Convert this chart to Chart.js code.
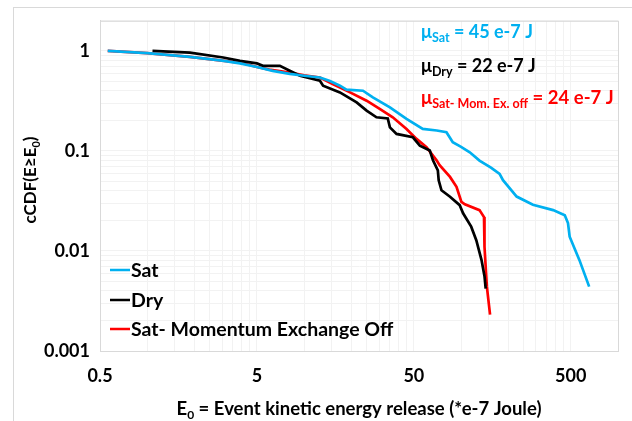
<!DOCTYPE html>
<html>
<head>
<meta charset="utf-8">
<script src="https://cdn.jsdelivr.net/npm/chart.js@4/dist/chart.umd.min.js"></script>
<style>
  html, body { margin: 0; padding: 0; background: #fff; }
</style>
</head>
<body>
<canvas id="chart" width="632" height="421"></canvas>
<script>
// series: energy E0 (*e-7 J) and cCDF
const satE   = [0.56, 1.0, 1.87, 3.0, 3.9, 5.0, 6.3, 8.1, 10, 12.6, 14.6, 16.9, 18.6, 23.7, 27.4, 35.2, 44.9, 57, 70, 80.7, 88.5, 100, 113.6, 131, 155, 176, 185, 226, 287, 386, 458, 480, 492, 568, 655];
const satCdf = [1.0, 0.95, 0.87, 0.80, 0.75, 0.69, 0.632, 0.59, 0.565, 0.542, 0.5, 0.449, 0.41, 0.40, 0.343, 0.273, 0.209, 0.166, 0.16, 0.154, 0.122, 0.11, 0.097, 0.08, 0.068, 0.059, 0.051, 0.035, 0.029, 0.0256, 0.0228, 0.019, 0.0139, 0.0081, 0.0044];

const dryE   = [1.08, 1.87, 3.05, 3.9, 5.0, 5.46, 7.0, 9.4, 12.6, 13.2, 16.9, 21.6, 25, 28.9, 34.1, 35.2, 38.8, 49.3, 54.6, 63.2, 66.2, 71.1, 72, 75, 85, 98, 103, 116, 125, 135, 141, 143.5];
const dryCdf = [1.0, 0.96, 0.86, 0.795, 0.75, 0.709, 0.709, 0.564, 0.503, 0.449, 0.385, 0.306, 0.253, 0.217, 0.211, 0.172, 0.148, 0.137, 0.113, 0.101, 0.0805, 0.064, 0.0508, 0.0404, 0.0348, 0.0287, 0.0238, 0.0175, 0.0128, 0.0081, 0.0056, 0.0042];

const offE   = [0.56, 1.0, 1.87, 3.0, 3.9, 5.0, 6.0, 8.1, 10, 12.6, 15.2, 19.6, 25, 30.3, 36.7, 44.9, 52, 60.2, 69.8, 73, 85, 93.5, 100.5, 105.7, 131, 140, 141, 146, 153];
const offCdf = [1.0, 0.95, 0.87, 0.80, 0.765, 0.69, 0.65, 0.608, 0.57, 0.542, 0.466, 0.385, 0.318, 0.263, 0.217, 0.166, 0.132, 0.109, 0.0805, 0.072, 0.055, 0.0438, 0.031, 0.0293, 0.0256, 0.0218, 0.011, 0.0044, 0.00231];

const seriesNames = ["Sat", "Dry", "Sat- Momentum Exchange Off"];
const seriesColors = ["#00b0f0", "#000000", "#ff0000"];

// tick labels
const xTickLabels = [0.5, 5, 50, 500];
const yTickLabels = [0.001, 0.01, 0.1, 1];

// mean energy notes
const meanNames  = ["Sat", "Dry", "Sat- Mom. Ex. off"];
const meanValues = ["45 e-7 J", "22 e-7 J", "24 e-7 J"];

const FONT = "Lato, 'Open Sans', sans-serif";

function pts(xs, ys) {
  return xs.map((x, i) => ({ x: x, y: ys[i] }));
}

// Excel-style log gridlines: every k * decade start
function logTicks(starts, max) {
  const out = [];
  starts.forEach(s => {
    for (let k = 1; k <= 9; k++) {
      const v = +(s * k).toPrecision(6);
      if (v <= max) out.push({ value: v });
    }
  });
  return out;
}

function isMajor(list, v) {
  return list.some(m => Math.abs(m - v) / m < 1e-6);
}

function drawSubText(ctx, x, y, parts) {
  // parts: [text, size, dy]
  parts.forEach(p => {
    ctx.font = "bold " + p[1] + "px " + FONT;
    ctx.fillText(p[0], x, y + p[2]);
    x += ctx.measureText(p[0]).width;
  });
  return x;
}

function partsWidth(ctx, parts) {
  let w = 0;
  parts.forEach(p => {
    ctx.font = "bold " + p[1] + "px " + FONT;
    w += ctx.measureText(p[0]).width;
  });
  return w;
}

const extras = {
  id: "extras",
  afterDraw(chart) {
    const ctx = chart.ctx;
    const a = chart.chartArea;
    ctx.save();

    // outer frame and plot border
    ctx.strokeStyle = "#d9d9d9";
    ctx.lineWidth = 1;
    ctx.strokeRect(13.5, 7.5, 640, 440);
    ctx.strokeRect(a.left + 0.5, a.top + 0.5, a.right - a.left, a.bottom - a.top);

    ctx.fillStyle = "#000";
    ctx.textBaseline = "alphabetic";

    // x axis title
    const xParts = [["E", 18.5, 0], ["0", 12, 4], [" = Event kinetic energy release (*e-7 Joule)", 18.5, 0]];
    let w = partsWidth(ctx, xParts);
    drawSubText(ctx, (a.left + a.right) / 2 - w / 2, 415, xParts);

    // y axis title
    ctx.save();
    ctx.translate(36, 180);
    ctx.rotate(-Math.PI / 2);
    const yParts = [["cCDF(E\u2265E", 17, 0], ["0", 11, 4], [")", 17, 0]];
    w = partsWidth(ctx, yParts);
    drawSubText(ctx, -w / 2, 0, yParts);
    ctx.restore();

    // mean notes
    const noteY = [38, 72, 104];
    const noteSize = [18, 18, 18.5];
    meanNames.forEach((n, i) => {
      ctx.fillStyle = seriesColors[i];
      drawSubText(ctx, 421, noteY[i], [["\u03bc", noteSize[i], 0], [n, 12.5, 4], [" = " + meanValues[i], noteSize[i], 0]]);
    });

    // legend inside plot
    const legY = [270, 300, 329];
    ctx.textBaseline = "middle";
    chart.data.datasets.forEach((ds, i) => {
      ctx.strokeStyle = ds.borderColor;
      ctx.lineWidth = 2.5;
      ctx.beginPath();
      ctx.moveTo(110, legY[i]);
      ctx.lineTo(130, legY[i]);
      ctx.stroke();
      ctx.fillStyle = "#000";
      ctx.font = "bold 19.5px " + FONT;
      ctx.fillText(ds.label, 131, legY[i] + 1);
    });

    ctx.restore();
  }
};

new Chart(document.getElementById("chart"), {
  type: "line",
  data: {
    datasets: [
      { label: seriesNames[0], data: pts(satE, satCdf), borderColor: seriesColors[0] },
      { label: seriesNames[1], data: pts(dryE, dryCdf), borderColor: seriesColors[1] },
      { label: seriesNames[2], data: pts(offE, offCdf), borderColor: seriesColors[2] },
    ],
  },
  options: {
    responsive: false,
    animation: false,
    devicePixelRatio: 1,
    layout: { padding: { top: 20, right: 14, left: 0, bottom: 0 } },
    elements: {
      point: { radius: 0 },
      line: { borderWidth: 2.7, tension: 0 },
    },
    plugins: {
      legend: { display: false },
      tooltip: { enabled: false },
    },
    scales: {
      x: {
        type: "logarithmic",
        min: 0.5,
        max: 1000,
        afterBuildTicks: s => { s.ticks = logTicks([0.5, 5, 50, 500], 1000); },
        afterFit: s => { s.height = 70; },
        grid: { color: "#f2f2f2", drawTicks: false },
        border: { color: "#d9d9d9" },
        ticks: {
          autoSkip: false,
          maxRotation: 0,
          padding: 14,
          color: "#000",
          font: { family: FONT, size: 18, weight: "bold" },
          callback: v => isMajor(xTickLabels, v) ? String(v) : "",
        },
      },
      y: {
        type: "logarithmic",
        min: 0.001,
        max: 2,
        afterBuildTicks: s => { s.ticks = logTicks([0.001, 0.01, 0.1, 1], 2); },
        afterFit: s => { s.width = 100; },
        grid: { color: "#f2f2f2", drawTicks: false },
        border: { color: "#d9d9d9" },
        ticks: {
          autoSkip: false,
          padding: 10,
          color: "#000",
          font: { family: FONT, size: 18, weight: "bold" },
          callback: v => isMajor(yTickLabels, v) ? String(v) : "",
        },
      },
    },
  },
  plugins: [extras],
});
</script>
</body>
</html>
